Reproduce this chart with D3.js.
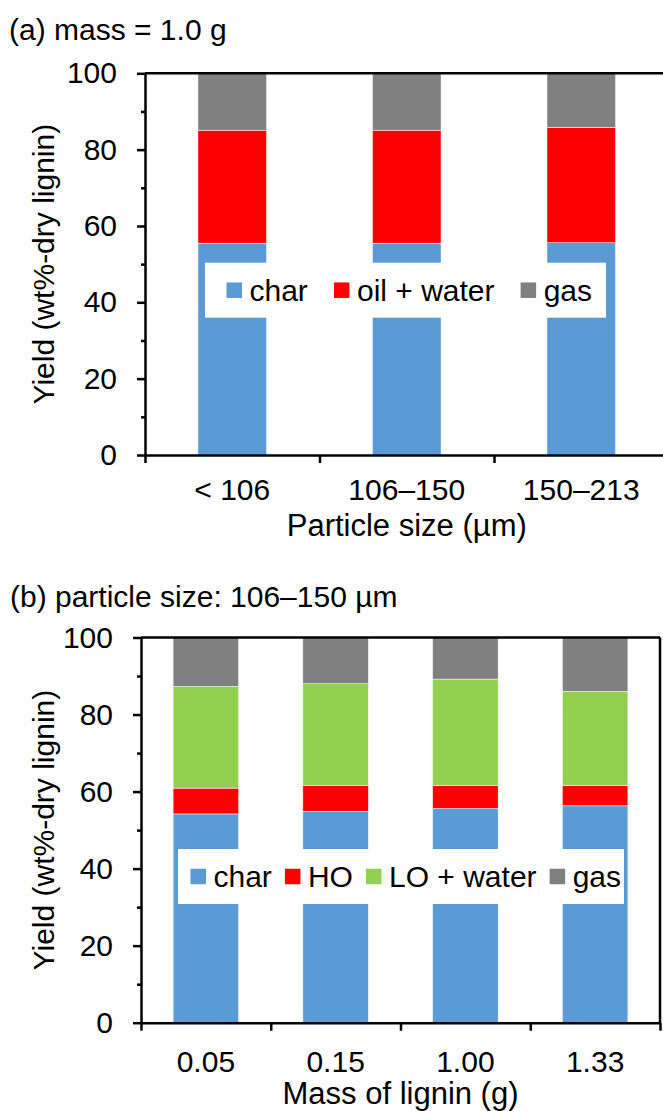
<!DOCTYPE html>
<html>
<head>
<meta charset="utf-8">
<script src="https://cdn.jsdelivr.net/npm/d3@7"></script>
<style>
  html, body { margin: 0; padding: 0; background: #fff; }
  svg { display: block; font-family: "Liberation Sans", Arial, sans-serif; }
</style>
</head>
<body>
<svg id="chart" width="663" height="1111"></svg>
<script>
// ---- Panel (a): yields vs particle size, mass = 1.0 g ----
const sizeCategories = ["< 106", "106–150", "150–213"];
const sizeChar = [55.5, 55.5, 55.6];
const sizeOilWater = [29.6, 29.6, 30.2];
const sizeGas = [14.9, 14.9, 14.2];

// ---- Panel (b): yields vs lignin mass, particle size 106–150 µm ----
const massCategories = ["0.05", "0.15", "1.00", "1.33"];
const massChar = [54.2, 54.9, 55.6, 56.3];
const massHO = [6.7, 6.7, 6.0, 5.3];
const massLOWater = [26.4, 26.4, 27.6, 24.4];
const massGas = [12.7, 12.0, 10.8, 14.0];

const yMajorTicks = [0, 20, 40, 60, 80, 100];
const yMinorTicks = [10, 30, 50, 70, 90];

const COLORS = { char: "#5B9BD5", red: "#FF0000", green: "#92D050", gas: "#808080" };
const FONT = 30;          // tick labels, legend, headings
const AXIS_TITLE_FONT = 31;

const svg = d3.select("#chart");

function drawPanel(cfg) {
  const g = svg.append("g");
  const n = cfg.categories.length;

  const x = d3.scaleBand()
    .domain(cfg.categories)
    .range([cfg.x0, cfg.x1])
    .paddingInner(cfg.pad)
    .paddingOuter(cfg.pad / 2);
  const y = d3.scaleLinear().domain([0, 100]).range([cfg.yBot, cfg.yTop]);

  // stacked rows
  const rows = cfg.categories.map((c, i) => {
    const r = { cat: c };
    cfg.series.forEach(s => { r[s.key] = s.values[i]; });
    return r;
  });
  const stacked = d3.stack().keys(cfg.series.map(s => s.key))(rows);

  g.append("g").selectAll("g")
    .data(stacked)
    .join("g")
      .attr("fill", d => cfg.series.find(s => s.key === d.key).color)
    .selectAll("rect")
    .data(d => d)
    .join("rect")
      .attr("x", d => x(d.data.cat))
      .attr("width", x.bandwidth())
      .attr("y", d => y(d[1]))
      .attr("height", d => y(d[0]) - y(d[1]))
      .attr("stroke", "#ffffff")
      .attr("stroke-width", 0.5);

  // plot frame: top and right edges
  g.append("line")
    .attr("x1", cfg.x0).attr("x2", cfg.x1)
    .attr("y1", cfg.yTop).attr("y2", cfg.yTop)
    .attr("stroke", "#000").attr("stroke-width", 2.5);
  g.append("line")
    .attr("x1", cfg.x1).attr("x2", cfg.x1)
    .attr("y1", cfg.yTop).attr("y2", cfg.yBot)
    .attr("stroke", "#000").attr("stroke-width", 2.5);

  // y axis: major ticks with labels, minor ticks without
  const yAxis = g.append("g")
    .attr("transform", `translate(${cfg.x0},0)`)
    .call(d3.axisLeft(y).tickValues(yMajorTicks).tickSize(8).tickSizeOuter(0).tickPadding(20));
  yAxis.select(".domain").attr("stroke-width", 2.5);
  yAxis.selectAll(".tick line").attr("stroke-width", 2.5);
  yAxis.selectAll(".tick text")
    .attr("font-size", FONT).attr("fill", "#000")
    .attr("font-family", "Liberation Sans, Arial, sans-serif");

  const yMinor = g.append("g")
    .attr("transform", `translate(${cfg.x0},0)`)
    .call(d3.axisLeft(y).tickValues(yMinorTicks).tickSize(4).tickFormat(""));
  yMinor.select(".domain").remove();
  yMinor.selectAll(".tick line").attr("stroke-width", 2.5);

  // x axis: tick marks at category boundaries
  const xb = d3.scaleLinear().domain([0, n]).range([cfg.x0, cfg.x1]);
  const xAxis = g.append("g")
    .attr("transform", `translate(0,${cfg.yBot})`)
    .call(d3.axisBottom(xb).tickValues(d3.range(n + 1)).tickSize(8).tickSizeOuter(0).tickFormat(""));
  xAxis.select(".domain").attr("stroke-width", 2.5);
  xAxis.selectAll(".tick line").attr("stroke-width", 2.5);

  // category labels
  const xLab = g.append("g")
    .attr("transform", `translate(0,${cfg.yBot})`)
    .call(d3.axisBottom(x).tickSize(0).tickPadding(0));
  xLab.select(".domain").remove();
  xLab.selectAll(".tick text")
    .attr("y", cfg.xLabelDy).attr("dy", 0)
    .attr("font-size", FONT).attr("fill", "#000")
    .attr("font-family", "Liberation Sans, Arial, sans-serif");

  // axis titles
  g.append("text")
    .attr("x", (cfg.x0 + cfg.x1) / 2)
    .attr("y", cfg.yBot + cfg.xTitleDy)
    .attr("text-anchor", "middle")
    .attr("font-size", AXIS_TITLE_FONT)
    .text(cfg.xTitle);
  g.append("text")
    .attr("transform", `translate(${cfg.yTitleX},${(cfg.yTop + cfg.yBot) / 2}) rotate(-90)`)
    .attr("text-anchor", "middle")
    .attr("font-size", FONT)
    .text("Yield (wt%-dry lignin)");

  // panel heading
  g.append("text")
    .attr("x", cfg.titleX).attr("y", cfg.titleY)
    .attr("font-size", FONT)
    .text(cfg.title);

  // legend: white box over the bars
  const L = cfg.legend;
  const lg = g.append("g");
  lg.append("rect")
    .attr("x", L.x0).attr("y", L.y0)
    .attr("width", L.x1 - L.x0).attr("height", L.y1 - L.y0)
    .attr("fill", "#fff");
  const cy = (L.y0 + L.y1) / 2;
  const sw = 15.5, gapST = 7.5;
  const items = lg.selectAll("g.item")
    .data(cfg.series)
    .join("g").attr("class", "item");
  items.append("rect")
    .attr("width", sw).attr("height", sw)
    .attr("y", cy - sw / 2)
    .attr("fill", d => d.color);
  items.append("text")
    .attr("font-size", FONT)
    .attr("y", cy + 10.5)
    .text(d => d.label);
  const widths = [];
  items.select("text").each(function () { widths.push(this.getComputedTextLength()); });
  const used = widths.reduce((a, w) => a + sw + gapST + w, 0);
  const avail = (L.x1 - L.padR) - (L.x0 + L.padL);
  const gap = (avail - used) / (cfg.series.length - 1);
  let cx = L.x0 + L.padL;
  items.each(function (d, i) {
    const it = d3.select(this);
    it.select("rect").attr("x", cx);
    it.select("text").attr("x", cx + sw + gapST);
    cx += sw + gapST + widths[i] + gap;
  });
}

// panel (a)
drawPanel({
  categories: sizeCategories,
  series: [
    { key: "char", label: "char", values: sizeChar, color: COLORS.char },
    { key: "oil", label: "oil + water", values: sizeOilWater, color: COLORS.red },
    { key: "gas", label: "gas", values: sizeGas, color: COLORS.gas }
  ],
  x0: 145, x1: 668.5, yTop: 73.3, yBot: 455, pad: 0.607,
  xLabelDy: 45, xTitleDy: 81, yTitleX: 54,
  xTitle: "Particle size (µm)",
  title: "(a) mass = 1.0 g", titleX: 9, titleY: 39.5,
  legend: { x0: 205, x1: 606, y0: 262.7, y1: 317.7, padL: 21.5, padR: 14 }
});

// panel (b)
drawPanel({
  categories: massCategories,
  series: [
    { key: "char", label: "char", values: massChar, color: COLORS.char },
    { key: "ho", label: "HO", values: massHO, color: COLORS.red },
    { key: "lo", label: "LO + water", values: massLOWater, color: COLORS.green },
    { key: "gas", label: "gas", values: massGas, color: COLORS.gas }
  ],
  x0: 141, x1: 660, yTop: 637.5, yBot: 1022.7, pad: 0.495,
  xLabelDy: 49, xTitleDy: 81, yTitleX: 54,
  xTitle: "Mass of lignin (g)",
  title: "(b) particle size: 106–150 µm", titleX: 10, titleY: 606.5,
  legend: { x0: 178, x1: 624, y0: 849, y1: 904, padL: 12.5, padR: 3 }
});
</script>
</body>
</html>
